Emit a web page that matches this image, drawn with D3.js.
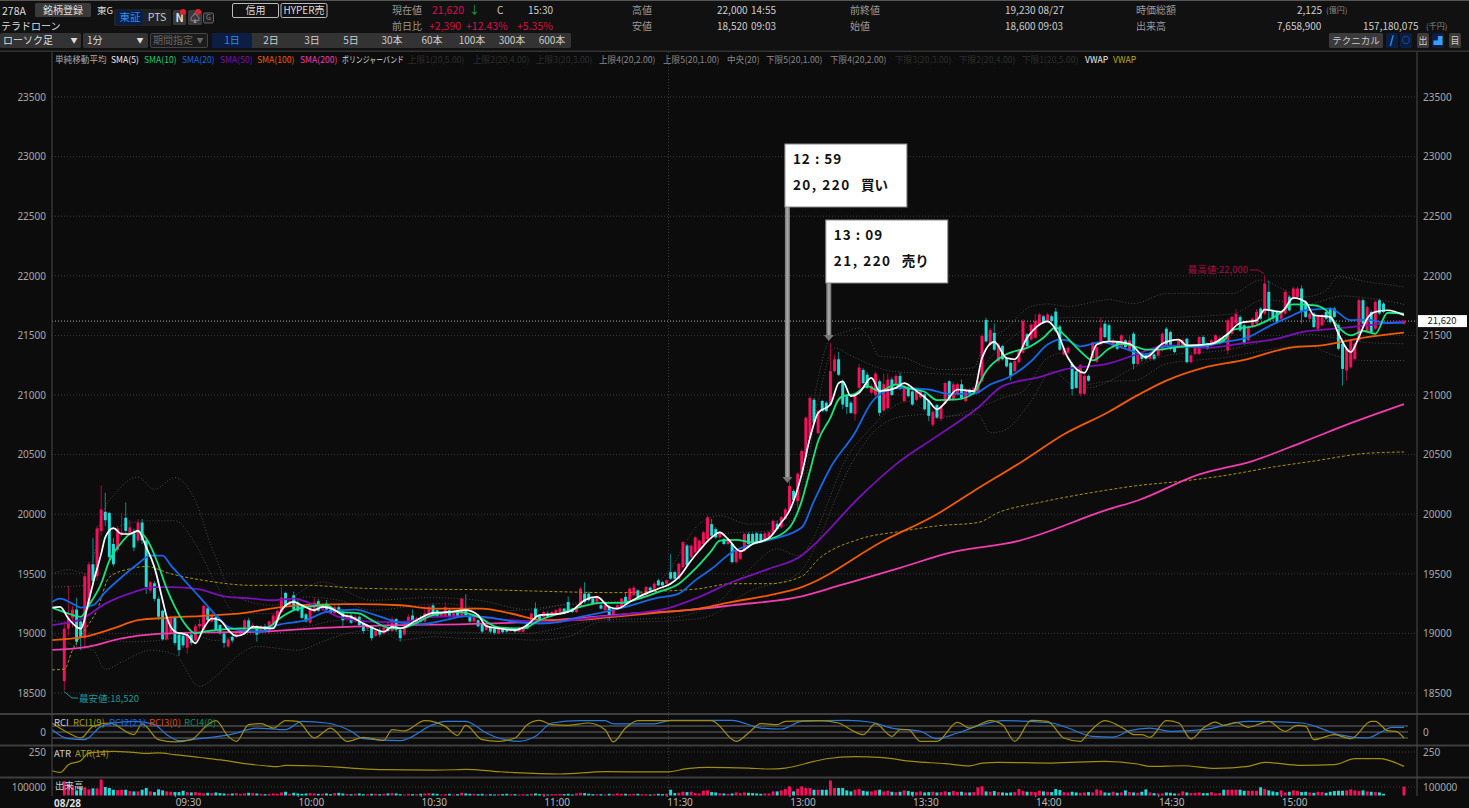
<!DOCTYPE html>
<html>
<head>
<meta charset="utf-8">
<script src="https://cdn.jsdelivr.net/npm/d3@7"></script>
<style>
  html, body { margin: 0; padding: 0; background: #0c0c0c; overflow: hidden; }
  svg { display: block; }
  text { font-family: "Noto Sans CJK JP", "Noto Sans", sans-serif; }
</style>
</head>
<body>
<div id="chart"></div>
<script>
// one-minute bars, 09:03 to 15:25 plus the closing bar, morning and afternoon sessions run together
const barMinute = d3.range(3, 326).concat([330]);
const barOpen = [
  18600,19040,19130,19200,19100,18960,19250,19580,19480,19860,
  20020,20010,19750,19700,19830,19970,19840,19840,19780,19930,
  19780,19360,19420,19290,19190,18950,19000,19130,18990,18980,
  18880,18990,18940,19060,19030,19210,19100,19140,19070,19000,
  18890,18970,18970,18990,19010,19110,19040,19060,19020,19060,
  19010,19070,19110,19180,19340,19240,19320,19260,19230,19160,
  19090,19180,19270,19200,19250,19200,19170,19220,19180,19120,
  19150,19100,19140,19080,19040,19060,18980,19020,19000,19050,
  19020,19120,19030,18990,19070,19150,19070,19130,19100,19140,
  19235,19195,19140,19140,19195,19140,19190,19140,19210,19150,
  19100,19110,19080,19030,19055,19040,19000,19040,19033,19020,
  19040,19015,19015,19097,19097,19208,19153,19139,19167,19153,
  19153,19167,19208,19264,19208,19180,19222,19334,19334,19292,
  19250,19236,19195,19222,19153,19208,19222,19306,19278,19320,
  19361,19306,19320,19384,19375,19445,19430,19417,19514,19514,
  19459,19556,19737,19640,19680,19695,19750,19792,19917,19875,
  19806,19792,19750,19750,19598,19625,19695,19834,19834,19840,
  19834,19778,19792,19834,19920,19890,19960,20028,20195,20110,
  20335,20480,20640,20960,20680,20950,20935,20920,21200,21300,
  21115,20990,20935,20840,21060,21210,21170,21020,21000,21115,
  20870,20890,21130,21090,21160,20950,21060,21030,20960,20980,
  21005,20950,20750,20915,20800,20935,21115,20960,21005,21090,
  20950,21045,21018,21018,21115,21630,21420,21520,21283,21410,
  21310,21270,21200,21275,21355,21510,21465,21480,21590,21660,
  21620,21660,21700,21575,21340,21355,21260,21200,21010,21010,
  21160,21310,21280,21425,21598,21585,21400,21444,21402,21458,
  21374,21514,21261,21345,21345,21303,21340,21330,21374,21556,
  21528,21402,21402,21402,21472,21275,21345,21345,21486,21430,
  21416,21430,21430,21472,21374,21514,21600,21655,21585,21458,
  21570,21600,21725,21683,21865,21710,21697,21640,21683,21825,
  21810,21823,21893,21780,21640,21683,21556,21585,21697,21725,
  21725,21585,21430,21205,21233,21303,21458,21795,21528,21697,
  21556,21795,21767,21600];
const barClose = [
  19040,19130,19200,18930,18970,19480,19580,19440,19880,20040,
  19950,19640,19580,19880,19850,19860,19890,19720,19930,19780,
  19390,19430,19290,19140,18950,19140,19130,18920,18860,18900,
  18990,18920,19060,19080,19230,19110,19160,19030,19000,18920,
  18950,18940,19000,19010,19110,19050,19070,18990,19060,19020,
  19100,19150,19190,19300,19230,19270,19200,19190,19130,19100,
  19220,19260,19190,19230,19200,19170,19220,19180,19110,19150,
  19090,19140,19070,19020,19060,18960,19020,18990,19050,19020,
  19120,19030,18960,19060,19140,19110,19125,19100,19170,19220,
  19150,19140,19170,19220,19140,19170,19140,19290,19150,19100,
  19150,19060,19015,19070,19015,19005,19040,19010,19015,19033,
  19015,19050,19040,19040,19167,19139,19111,19180,19139,19180,
  19195,19208,19167,19180,19180,19222,19375,19264,19278,19250,
  19306,19208,19236,19139,19208,19236,19292,19250,19375,19384,
  19306,19334,19389,19361,19417,19403,19403,19445,19459,19459,
  19584,19765,19570,19737,19806,19778,19848,19973,19820,19806,
  19848,19750,19792,19598,19695,19695,19834,19750,19765,19765,
  19778,19840,19848,19945,19875,19975,20040,20237,20120,20340,
  20530,20810,20975,20770,20865,20865,20865,21200,21300,21170,
  20920,20900,20850,21000,21230,21100,21060,21075,21180,20850,
  21090,21130,21000,21160,21050,21075,20990,20920,21030,21045,
  20880,20825,20860,20810,20900,21100,20960,21090,21090,20975,
  21045,21005,21060,21115,21495,21450,21545,21380,21423,21300,
  21240,21160,21285,21370,21620,21410,21590,21620,21675,21605,
  21675,21620,21535,21380,21395,21395,21050,21060,21250,21160,
  21120,21440,21400,21565,21486,21458,21460,21388,21500,21402,
  21458,21261,21345,21303,21303,21345,21303,21388,21514,21416,
  21388,21360,21458,21458,21275,21332,21402,21486,21430,21388,
  21458,21500,21472,21444,21627,21655,21680,21542,21430,21570,
  21640,21697,21640,21935,21710,21640,21612,21697,21865,21710,
  21893,21893,21697,21655,21683,21570,21669,21669,21640,21612,
  21655,21388,21219,21388,21458,21430,21795,21598,21739,21528,
  21781,21683,21697,21620];
const barHigh = [
  19100,19400,19230,19300,19110,19500,19600,19800,19900,20240,
  20180,20020,19800,19900,20010,20100,19950,19880,19960,19960,
  19800,19440,19440,19310,19200,19160,19150,19150,19000,19000,
  19000,19010,19080,19120,19240,19220,19170,19150,19080,19010,
  18960,18990,19010,19040,19120,19130,19090,19070,19070,19080,
  19110,19170,19200,19390,19350,19290,19350,19280,19240,19170,
  19230,19300,19290,19250,19280,19230,19240,19240,19200,19170,
  19170,19170,19150,19090,19080,19070,19040,19050,19070,19090,
  19140,19130,19050,19070,19160,19200,19140,19150,19230,19240,
  19250,19200,19180,19260,19210,19190,19200,19300,19330,19160,
  19160,19120,19090,19080,19060,19050,19050,19050,19040,19040,
  19045,19060,19050,19105,19175,19260,19160,19190,19190,19190,
  19205,19220,19215,19310,19215,19235,19390,19430,19350,19300,
  19320,19250,19245,19235,19215,19245,19300,19340,19385,19400,
  19370,19345,19400,19395,19430,19460,19440,19455,19667,19525,
  19595,19775,19750,19745,19815,19790,19860,19990,19960,19890,
  19860,19805,19805,19760,19705,19705,19845,19850,19845,19850,
  19845,19850,19860,19955,19945,19985,20055,20280,20210,20350,
  20545,20820,20990,20975,20880,20960,20950,21436,21340,21360,
  21130,21000,20950,21010,21260,21225,21190,21090,21195,21130,
  21180,21180,21150,21175,21190,21090,21075,21040,21040,21055,
  21020,20960,20870,20925,20910,21110,21125,21110,21100,21130,
  21055,21055,21070,21130,21510,21650,21560,21600,21435,21420,
  21320,21280,21295,21380,21635,21520,21600,21680,21690,21670,
  21690,21675,21730,21590,21410,21410,21270,21215,21260,21175,
  21170,21450,21415,21650,21620,21600,21475,21455,21510,21470,
  21500,21530,21360,21355,21355,21355,21350,21400,21525,21570,
  21540,21415,21470,21475,21480,21345,21415,21495,21500,21440,
  21470,21510,21500,21485,21640,21665,21720,21670,21600,21585,
  21650,21720,21735,22000,21960,21720,21710,21710,21880,21840,
  21910,21910,21920,21795,21695,21695,21680,21680,21710,21740,
  21740,21600,21440,21400,21470,21440,21810,21810,21750,21710,
  21795,21810,21780,21630];
const barLow = [
  18520,18980,19050,18900,18860,18870,19200,19400,19440,19820,
  19900,19620,19560,19680,19810,19830,19820,19690,19760,19750,
  19330,19340,19270,19110,18940,18940,18990,18900,18810,18880,
  18830,18900,18920,19040,19020,19100,19090,19020,18990,18880,
  18880,18920,18960,18980,19000,19040,19030,18930,19010,19010,
  19000,19060,19100,19170,19220,19230,19190,19180,19120,19090,
  19080,19170,19180,19190,19190,19160,19160,19170,19060,19100,
  19080,19090,19050,19000,19020,18940,18970,18970,18990,19010,
  19010,19010,18930,18980,19060,19100,19060,19090,19090,19130,
  19140,19130,19130,19130,19130,19130,19130,19130,19140,19090,
  19090,19050,19000,19020,19000,18990,18990,19000,19005,19010,
  19005,19005,19005,19035,19090,19130,19100,19130,19130,19145,
  19145,19160,19160,19170,19170,19170,19215,19250,19270,19240,
  19240,19200,19185,19105,19145,19200,19215,19240,19270,19310,
  19295,19295,19310,19350,19365,19395,19395,19405,19450,19450,
  19450,19545,19560,19630,19670,19685,19740,19780,19810,19795,
  19795,19740,19740,19585,19585,19615,19685,19740,19755,19755,
  19770,19770,19785,19825,19865,19880,19950,20020,20110,20045,
  20320,20470,20630,20755,20670,20855,20855,20910,21190,21160,
  20880,20840,20840,20785,21050,21090,21050,21010,20990,20825,
  20860,20880,20990,21080,21040,20935,20980,20910,20950,20970,
  20870,20780,20730,20800,20780,20925,20950,20950,20995,20965,
  20940,20995,21010,21010,21105,21440,21410,21370,21270,21290,
  21230,21120,21190,21265,21345,21400,21455,21470,21580,21595,
  21610,21610,21525,21370,21330,21345,20995,21050,20990,21000,
  21110,21300,21270,21415,21475,21445,21390,21375,21390,21390,
  21365,21215,21250,21280,21290,21290,21290,21320,21365,21405,
  21375,21350,21390,21390,21265,21265,21335,21335,21420,21380,
  21405,21420,21420,21435,21340,21505,21590,21530,21420,21448,
  21560,21590,21630,21670,21620,21620,21600,21630,21670,21700,
  21800,21810,21600,21645,21630,21560,21530,21575,21630,21600,
  21645,21375,21080,21120,21220,21290,21445,21585,21515,21515,
  21545,21670,21685,21590];
// volume in thousand shares
const barVolumeK = [
  168,136,108,60,96,96,72,84,84,188,
  100,88,68,64,68,68,52,48,48,68,
  88,48,40,72,60,48,44,40,40,56,
  40,36,40,32,24,32,28,36,28,24,
  20,24,28,20,24,32,28,24,20,16,
  20,24,20,36,44,20,32,24,20,24,
  28,24,20,20,24,16,28,32,24,20,
  16,20,24,16,16,20,20,16,20,24,
  28,24,16,12,20,16,16,20,24,28,
  24,20,12,16,20,12,16,32,24,20,
  20,16,20,12,16,12,16,16,20,16,
  16,12,16,12,20,24,16,20,12,16,
  16,20,16,20,12,24,32,28,20,16,
  16,16,12,20,16,24,20,20,16,20,
  20,16,16,12,16,20,16,20,68,28,
  32,44,40,44,28,24,56,60,40,36,
  28,24,20,24,36,28,36,32,28,24,
  20,24,24,48,48,60,76,108,48,80,
  108,88,88,68,68,68,68,176,88,88,
  88,60,48,68,76,56,48,48,60,68,
  48,56,44,40,44,60,52,44,40,48,
  36,40,44,36,40,48,40,52,40,44,
  36,36,40,96,108,48,44,52,40,36,
  32,36,40,76,52,44,44,40,56,48,
  44,40,76,64,40,36,44,36,32,36,
  40,36,72,60,36,32,44,32,36,60,
  40,36,32,44,72,36,28,24,24,36,
  32,24,24,48,36,28,32,36,28,28,
  40,24,28,68,68,68,68,68,56,56,
  56,56,96,76,60,48,40,60,36,44,
  60,52,40,44,36,32,44,40,32,44,
  52,56,56,60,72,60,52,60,48,44,
  40,36,20,104];

const sma5Min = [0,2,4,7,9,10,12,13,15,17,19,21,23,25,27,28,30,33,35,37,39,41,43,45,47,49,51,54,56,59,61,64,66,69,71,73,76,78,81,83,85,89,93,97,101,104,106,109,113,116,119,123,127,130,133,136,138,141,144,148,151,153,156,158,161,163,165,168,171,175,178,180,183,185,187,190,192,193,195,197,200,202,206,208,211,214,216,218,221,225,227,230,233,235,238,241,243,245,248,252,255,258,263,267,271,275,277,283,287,290,294,296,300,303,306,308,312,314,317,319,321,323,326,330];
const sma5 = [19217,19222,19125,19040,19278,19417,19667,19806,19884,19834,19834,19862,19723,19556,19278,19139,19014,18986,18917,19042,19125,19111,19028,18978,19000,19055,19050,19042,19195,19264,19236,19195,19222,19195,19153,19139,19083,19050,19014,19055,19042,19111,19172,19180,19195,19153,19061,19042,19028,19070,19153,19161,19195,19278,19306,19222,19208,19264,19320,19375,19417,19472,19612,19695,19806,19848,19792,19689,19750,19800,19930,20028,20335,20640,20850,20920,21100,21115,20990,21018,21144,21032,21060,21100,21032,20950,20880,20935,21046,21032,21310,21445,21310,21300,21480,21590,21618,21550,21310,21185,21423,21450,21430,21317,21430,21464,21416,21430,21514,21604,21626,21716,21697,21815,21780,21669,21655,21514,21360,21486,21640,21697,21711,21669];
const sma10Min = [0,4,7,9,12,14,17,19,21,24,26,28,30,33,35,37,40,46,50,53,55,59,62,67,70,75,78,83,85,93,99,104,109,115,119,124,129,134,139,142,148,153,157,161,163,167,171,175,180,183,185,187,190,192,193,196,199,202,206,209,213,216,221,225,228,232,235,238,242,245,247,251,254,258,261,265,267,270,274,283,286,288,294,299,303,308,311,314,317,320,323,326,330];
const sma10 = [19217,19167,19139,19236,19417,19611,19764,19834,19856,19737,19570,19375,19222,19055,19000,19014,19028,19042,19042,19055,19111,19195,19222,19236,19180,19167,19111,19042,19042,19153,19180,19139,19050,19042,19111,19167,19222,19256,19256,19278,19347,19417,19542,19695,19778,19784,19764,19790,19888,20112,20363,20614,20810,20963,20990,21010,21074,21032,21088,21055,21027,20957,20963,21018,21200,21325,21367,21395,21480,21568,21507,21367,21290,21388,21430,21400,21380,21380,21400,21430,21458,21542,21584,21669,21761,21753,21710,21570,21500,21537,21514,21690,21683];
const sma20Min = [0,2,5,7,10,13,17,21,24,27,29,32,36,40,43,46,51,55,62,67,74,79,85,90,96,101,107,113,119,124,129,135,140,147,153,157,161,166,171,176,183,186,190,196,200,202,207,214,219,225,229,234,239,243,246,248,251,256,261,267,271,280,286,292,297,302,306,312,317,321,326,330];
const sma20 = [19264,19292,19250,19217,19236,19347,19472,19584,19653,19653,19570,19458,19306,19153,19055,19028,19014,19070,19111,19180,19200,19153,19090,19078,19111,19145,19133,19097,19083,19097,19139,19180,19222,19292,19334,19445,19542,19681,19750,19792,19888,20112,20390,20684,20935,21005,21060,21046,21010,21010,21088,21158,21283,21423,21465,21456,21408,21444,21400,21340,21407,21407,21444,21486,21576,21655,21711,21725,21627,21632,21604,21607];
const sma50Min = [0,7,13,20,25,29,36,42,49,54,59,65,70,79,85,93,101,112,122,134,142,150,158,166,175,183,187,197,206,216,226,232,241,247,258,264,272,282,290,299,305,313,321,330];
const sma50 = [19070,19117,19250,19347,19389,19389,19370,19311,19292,19278,19292,19222,19139,19097,19095,19139,19145,19111,19097,19139,19167,19208,19306,19431,19542,19653,19777,20140,20418,20655,20893,21074,21150,21213,21265,21332,21416,21396,21430,21472,21528,21556,21584,21620];
const sma100Min = [0,8,15,21,28,37,47,55,64,74,85,93,105,112,120,127,137,150,158,166,175,183,203,216,225,237,247,258,264,272,281,291,302,310,321,330];
const sma100 = [18944,18972,19042,19111,19131,19147,19172,19217,19242,19245,19236,19208,19208,19167,19111,19111,19139,19180,19208,19264,19320,19389,19777,20000,20195,20446,20670,20860,20980,21121,21228,21295,21396,21416,21486,21523];
const sma200Min = [0,9,17,25,37,50,66,85,101,117,130,142,155,166,183,192,207,219,236,258,265,280,293,305,317,330];
const sma200 = [18861,18889,18958,18994,19008,19014,19047,19070,19078,19097,19133,19167,19195,19236,19311,19400,19550,19675,19777,20042,20115,20334,20446,20601,20764,20924];
const vwapMin = [0,3,5,8,11,14,19,23,29,37,49,62,74,85,105,117,137,150,158,166,175,183,187,197,208,216,226,231,241,247,258,264,276,288,297,308,321,330];
const vwap = [18694,18700,18861,19028,19195,19472,19542,19561,19500,19445,19403,19403,19381,19372,19367,19356,19342,19356,19375,19417,19417,19478,19620,19790,19860,19902,19930,20014,20098,20140,20205,20236,20278,20334,20390,20446,20511,20522];

// bollinger bands, the four that are faintly visible
const bandUpper2Min = [0,4,9,12,16,21,25,30,35,39,45,54,66,78,92,104,117,126,142,150,158,163,170,174,182,187,190,194,197,199,202,208,213,217,225,228,232,239,243,248,258,264,272,288,295,301,306,311,314,321,330];
const bandUpper2 = [19500,19534,19500,19973,20195,20312,20209,20307,20112,19723,19306,19236,19431,19278,19300,19278,19195,19250,19278,19500,19917,19987,19917,19917,20112,21144,21479,21535,21562,21507,21325,21311,21241,21214,21228,21479,21535,21744,21763,21744,21800,21767,21851,21851,21964,21880,21823,21880,21992,21950,21908];
const bandUpper1Min = [0,8,11,18,24,30,35,40,45,54,62,70,78,95,110,126,142,150,158,165,175,182,187,191,195,205,215,225,230,240,248,258,270,288,296,306,315,330];
const bandUpper1 = [19389,19403,19723,19917,19945,19945,19750,19417,19167,19167,19306,19278,19195,19250,19190,19240,19280,19400,19720,19840,19860,20000,20950,21395,21330,21200,21180,21170,21350,21600,21650,21650,21650,21680,21800,21760,21830,21760];
const bandLower1Min = [0,6,13,20,28,34,40,46,54,62,70,78,85,100,115,134,150,162,170,177,182,195,200,205,209,216,226,232,237,243,247,253,258,264,272,287,296,306,313,321,330];
const bandLower1 = [19110,19060,18950,18930,18950,18990,18940,18990,19000,19056,19111,19125,19014,19010,19000,19111,19130,19250,19528,19709,19653,20530,20725,20893,20949,20809,20893,20976,21032,21311,21353,21060,21116,21230,21330,21380,21450,21510,21480,21440,21430];
const bandLower2Min = [0,6,10,13,18,24,30,36,40,46,50,60,66,72,80,85,93,101,109,118,126,134,142,154,160,170,182,196,200,208,214,218,226,229,232,239,244,250,258,264,272,287,296,306,313,321,330];
const bandLower2 = [19000,18890,18861,18700,18778,18860,18820,18555,18640,18830,18890,18860,18930,19000,19028,18944,18972,18958,18958,18944,18972,19097,19097,19111,19140,19350,19500,20474,20670,20823,20837,20823,20837,20683,20697,20948,21200,21074,21116,21120,21261,21318,21374,21416,21332,21289,21289];

// sub panels
const rci1Min = [0,4,7,10,14,20,22,26,30,34,38,40,43,45,48,51,54,57,60,64,68,72,76,81,83,86,91,96,99,101,105,109,113,116,119,122,126,131,135,137,140,143,150,161,167,170,173,177,179,187,192,195,198,201,205,207,209,212,216,221,224,229,232,235,239,243,247,251,253,257,262,264,266,268,272,275,278,281,284,286,289,292,297,300,301,304,306,308,313,317,322,323,326,328,330];
const rci1 = [75,-8,-50,47,75,-22,67,-64,-83,-64,61,95,-36,-78,61,70,33,95,89,-50,33,-78,-44,-70,19,10,95,47,-28,56,-64,-78,-50,61,97,61,56,75,19,-83,33,95,95,95,-78,-8,70,61,89,95,75,19,-22,70,-36,19,19,-78,-78,81,33,95,61,-78,97,89,-50,-78,-8,95,19,-22,-22,-44,95,75,-58,33,83,56,81,39,89,19,6,56,47,-64,-22,-56,89,89,11,5,-50];
const rci2Min = [0,4,8,12,15,20,25,28,31,36,44,50,57,61,67,73,76,85,93,96,101,106,109,114,118,122,129,135,137,147,151,166,173,178,183,194,200,205,212,216,221,227,232,244,248,254,259,263,268,273,281,292,305,309,314,321,325,327,330];
const rci2 = [19,-56,-64,47,75,89,61,-22,-72,-56,-17,33,19,89,75,6,-56,-72,61,89,89,-8,-50,-78,-36,75,95,95,67,67,97,97,33,25,89,97,81,33,6,-56,-8,61,95,75,33,-36,-42,11,33,6,19,89,75,39,-22,-50,11,39,39];
const atrMin = [0,2,4,7,9,15,20,23,26,30,36,42,47,52,55,57,65,73,81,93,98,101,109,113,124,135,150,155,160,170,175,179,186,189,196,202,210,218,224,227,231,244,257,265,268,276,284,292,296,305,313,318,324,330];
const atr = [55,38,118,160,240,257,246,236,240,222,193,163,128,107,97,111,104,83,66,62,65,70,45,35,21,45,42,76,90,83,73,83,152,180,201,194,152,128,105,135,142,135,152,125,100,107,79,100,142,111,118,180,180,100];

const priceTicks = [18500,19000,19500,20000,20500,21000,21500,22000,22500,23000,23500];
const timeTickMin = [30,60,90,120,150,180,210,240,270,300];
const timeTickLabel = ["09:30","10:00","10:30","11:00","11:30","13:00","13:30","14:00","14:30","15:00"];
const lastPrice = 21620;
const trades = [
  { minute: 179.5, tip: 20262, time: "12 : 59", price: "20, 220", side: "買い", dx: -2.5, top: 144 },
  { minute: 189.6, tip: 21453, time: "13 : 09", price: "21, 220", side: "売り", dx: -3, top: 220 }
];

const width = 1469, height = 808;
const svg = d3.select("#chart").append("svg").attr("width", width).attr("height", height);
svg.append("rect").attr("width", width).attr("height", height).attr("fill", "#0c0c0c");

const x = d3.scaleLinear().domain([0, 330]).range([52, 1404]);
const y = d3.scaleLinear().domain([18500, 23500]).range([693, 97]);
const yRci = d3.scaleLinear().domain([-100, 100]).range([744, 720]);
const yAtr = d3.scaleLinear().domain([0, 250]).range([776, 752]);
const yVol = d3.scaleLinear().domain([0, 100]).range([795.5, 787]);

function label(g, px, py, str, color, size, anchor, weight) {
  return g.append("text").attr("x", px).attr("y", py).attr("dy", "0.35em")
    .attr("fill", color).attr("font-size", size || 10)
    .attr("text-anchor", anchor || "start").attr("font-weight", weight || 400).text(str);
}

// ---------- header ----------
const head = svg.append("g");
head.append("rect").attr("width", width).attr("height", 51).attr("fill", "#111");
head.append("rect").attr("width", width).attr("height", 1).attr("fill", "#555");
function btn(x0, y0, w, h, fill, stroke) {
  return head.append("rect").attr("x", x0).attr("y", y0).attr("width", w).attr("height", h)
    .attr("rx", 1.5).attr("fill", fill).attr("stroke", stroke || "none");
}
label(head, 2, 11, "278A", "#ddd", 10.5);
btn(35, 3, 56, 14, "#3a3a3a");
label(head, 63, 10, "銘柄登録", "#ddd", 10, "middle");
label(head, 97, 11, "東G", "#ddd", 9.5);
label(head, 1, 26, "テラドローン", "#ddd", 10);
btn(114, 9, 57, 17, "#222");
btn(116, 10, 27, 15, "#0c1e44");
label(head, 130, 17, "東証", "#2b8fe0", 10.5, "middle");
label(head, 157, 17, "PTS", "#ccc", 10.5, "middle");
btn(173, 10, 13, 15, "#3a3a3a");
label(head, 179.5, 18, "N", "#ddd", 11, "middle", 700);
head.append("circle").attr("cx", 183).attr("cy", 12).attr("r", 3).attr("fill", "#e02030");
btn(188, 10, 14, 15, "#3a3a3a");
label(head, 195, 18, "♤", "#ddd", 10, "middle");
head.append("circle").attr("cx", 198).attr("cy", 12).attr("r", 3).attr("fill", "#e02030");
btn(203.5, 13, 10, 10, "#222", "#666");
label(head, 208.5, 18, "G", "#888", 7, "middle");
btn(232.5, 3.5, 46, 14, "#111", "#bbb");
label(head, 255.5, 10.5, "信用", "#ddd", 10, "middle");
btn(281, 3.5, 46, 14, "#111", "#bbb");
label(head, 304, 10.5, "HYPER売", "#ddd", 10, "middle");

label(head, 392, 10, "現在値", "#999", 10);
label(head, 432, 10, "21,620", "#d81048", 10.5);
label(head, 469, 10, "↓", "#10a060", 11);
label(head, 497, 10, "C", "#ccc", 10);
label(head, 528, 10, "15:30", "#ccc", 10);
label(head, 392, 26, "前日比", "#999", 10);
label(head, 429, 26, "+2,390", "#d81048", 10.5);
label(head, 466, 26, "+12.43%", "#d81048", 10.5);
label(head, 517, 26, "+5.35%", "#d81048", 10.5);

label(head, 632, 10, "高値", "#999", 10);
label(head, 717, 10, "22,000", "#ccc", 10);
label(head, 751, 10, "14:55", "#ccc", 10);
label(head, 632, 26, "安値", "#999", 10);
label(head, 717, 26, "18,520", "#ccc", 10);
label(head, 751, 26, "09:03", "#ccc", 10);
label(head, 850, 10, "前終値", "#999", 10);
label(head, 1005, 10, "19,230", "#ccc", 10);
label(head, 1038, 10, "08/27", "#ccc", 10);
label(head, 850, 26, "始値", "#999", 10);
label(head, 1005, 26, "18,600", "#ccc", 10);
label(head, 1038, 26, "09:03", "#ccc", 10);
label(head, 1136, 10, "時価総額", "#999", 10);
label(head, 1297, 10, "2,125", "#ccc", 10);
label(head, 1326, 10, "(億円)", "#888", 8);
label(head, 1136, 26, "出来高", "#999", 10);
label(head, 1277, 26, "7,658,900", "#ccc", 10);
label(head, 1363, 26, "157,180,075", "#ccc", 10);
label(head, 1426, 26, "(千円)", "#888", 8);

btn(0, 33, 81, 15, "#333");
label(head, 3, 40.5, "ローソク足", "#ddd", 10);
label(head, 74, 40.5, "▼", "#ddd", 7, "middle");
btn(83, 33, 65, 15, "#333");
label(head, 87, 40.5, "1分", "#ddd", 10);
label(head, 140, 40.5, "▼", "#ddd", 7, "middle");
btn(150.5, 33.5, 57, 14, "#1c1c1c", "#444");
label(head, 153, 40.5, "期間指定", "#666", 10);
label(head, 200, 40.5, "▼", "#666", 7, "middle");
btn(212, 33, 359, 15, "#333");
btn(212, 33, 40, 15, "#0c1e44");
const periodNames = ["1日","2日","3日","5日","30本","60本","100本","300本","600本"];
const periodCx = [232,271,312,351,392,432,472,512,552];
periodNames.forEach((n, k) => label(head, periodCx[k], 40.5, n, k === 0 ? "#2b8fe0" : "#ccc", 10, "middle"));

btn(1329, 33, 54, 15, "#3a3a3a");
label(head, 1356, 40.5, "テクニカル", "#ccc", 9.5, "middle");
[1386, 1400, 1417, 1432, 1449].forEach((bx, k) => btn(bx, 33, 12, 15, k < 2 || k === 3 ? "#0c1e44" : "#3a3a3a"));
label(head, 1392, 40.5, "/", "#3aa0ff", 11, "middle", 700);
label(head, 1406, 40.5, "○", "#3aa0ff", 8, "middle");
label(head, 1423, 40.5, "出", "#ccc", 9, "middle");
label(head, 1438, 40.5, "▟", "#3aa0ff", 9, "middle");
label(head, 1455, 40.5, "目", "#ccc", 9, "middle");

// ---------- price panel grid and axes ----------
const plot = svg.append("g");
plot.append("g").selectAll("line").data(priceTicks).join("line")
  .attr("x1", 52).attr("x2", 1417).attr("y1", d => y(d)).attr("y2", d => y(d))
  .attr("stroke", "#3c3c3c").attr("stroke-dasharray", "1,2");
plot.append("line").attr("x1", x(150) + 2).attr("x2", x(150) + 2).attr("y1", 52).attr("y2", 796)
  .attr("stroke", "#3c3c3c").attr("stroke-dasharray", "1,2");

const axisLeft = d3.axisLeft(y).tickValues(priceTicks).tickSize(0).tickPadding(0).tickFormat(d3.format("d"));
const axisRight = d3.axisRight(y).tickValues(priceTicks).tickSize(0).tickPadding(0).tickFormat(d3.format("d"));
function styleAxis(g) {
  g.select(".domain").remove();
  g.selectAll("text").attr("fill", "#a8a8a8").attr("font-size", 10)
    .style("font-family", "'Noto Sans', sans-serif");
}
svg.append("g").attr("transform", "translate(46,0)").call(axisLeft).call(styleAxis);
svg.append("g").attr("transform", "translate(1423,0)").call(axisRight).call(styleAxis);

// ---------- bollinger ----------
const lineOf = (scale, mins) => d3.line().x((d, k) => x(mins[k])).y(d => scale(d)).curve(d3.curveMonotoneX);
const bands = [[bandUpper2Min, bandUpper2], [bandUpper1Min, bandUpper1], [bandLower1Min, bandLower1], [bandLower2Min, bandLower2]];
bands.forEach(b => {
  plot.append("path").attr("d", lineOf(y, b[0])(b[1]))
    .attr("fill", "none").attr("stroke", "#4a4a4a").attr("stroke-width", 1).attr("stroke-dasharray", "1,2");
});

// ---------- last price line ----------
plot.append("line").attr("x1", 52).attr("x2", 1417).attr("y1", y(lastPrice)).attr("y2", y(lastPrice))
  .attr("stroke", "#b0b0b0").attr("stroke-dasharray", "1,2");

// ---------- candles ----------
const isUp = k => barClose[k] >= barOpen[k];
const barW = (x(1) - x(0)) * 0.72;
const candles = plot.append("g");
candles.selectAll("line").data(barMinute).join("line")
  .attr("x1", d => x(d)).attr("x2", d => x(d))
  .attr("y1", (d, k) => y(barHigh[k])).attr("y2", (d, k) => y(barLow[k]))
  .attr("stroke", (d, k) => isUp(k) ? "#a80c42" : "#0e8a88").attr("stroke-width", 1);
candles.selectAll("rect").data(barMinute).join("rect")
  .attr("x", d => x(d) - barW / 2).attr("width", barW)
  .attr("y", (d, k) => y(Math.max(barOpen[k], barClose[k])))
  .attr("height", (d, k) => Math.max(1, Math.abs(y(barOpen[k]) - y(barClose[k]))))
  .attr("fill", (d, k) => isUp(k) ? "#f4105c" : "#1fdcd6");

// ---------- moving averages ----------
const lines = [
  [vwapMin, vwap, "#a8920e", 1, "3,2"],
  [sma200Min, sma200, "#f23cb0", 1.8],
  [sma100Min, sma100, "#f25a06", 1.8],
  [sma50Min, sma50, "#7a10b8", 1.8],
  [sma20Min, sma20, "#1768e8", 1.8],
  [sma10Min, sma10, "#14e67c", 1.8],
  [sma5Min, sma5, "#ffffff", 1.7]
];
lines.forEach(l => {
  plot.append("path").attr("d", lineOf(y, l[0])(l[1]))
    .attr("fill", "none").attr("stroke", l[2]).attr("stroke-width", l[3])
    .attr("stroke-linejoin", "round").attr("stroke-dasharray", l[4] || null);
});

// ---------- legend row ----------
const legend = svg.append("g");
const legendText = ["単純移動平均","SMA(5)","SMA(10)","SMA(20)","SMA(50)","SMA(100)","SMA(200)","ボリンジャーバンド","上限1(20,5.00)","上限2(20,4.00)","上限3(20,3.00)","上限4(20,2.00)","上限5(20,1.00)","中央(20)","下限5(20,1.00)","下限4(20,2.00)","下限3(20,3.00)","下限2(20,4.00)","下限1(20,5.00)","VWAP","VWAP"];
const legendX = [55,111,144,182,220,257,300,342,408,473,536,599,663,727,766,830,895,959,1022,1085,1113];
const legendColor = ["#aaa","#eee","#10d070","#1768e8","#7a10b8","#f25a06","#f23cb0","#ddd","#2e2e2e","#2e2e2e","#2e2e2e","#888","#888","#888","#888","#888","#2e2e2e","#2e2e2e","#2e2e2e","#eee","#c0a810"];
legendText.forEach((t, k) => {
  const item = label(legend, legendX[k], 60, t, legendColor[k], 8.6);
  if (k === 7) item.attr("textLength", 62).attr("lengthAdjust", "spacingAndGlyphs");
});

// ---------- high / low marks ----------
label(plot, 1248, 270, "最高値:22,000", "#a80c42", 9.5, "end");
plot.append("path").attr("d", `M1250,270H1258L${x(296) - 0.5},${y(22000) - 2}`).attr("fill", "none").attr("stroke", "#a80c42");
label(plot, 79, 699, "最安値:18,520", "#1a9a98", 9.5);
plot.append("path").attr("d", `M${x(3)},${y(18520) + 1}L72,698H78`).attr("fill", "none").attr("stroke", "#1a9a98");

// ---------- sub panels ----------
[714, 745.5, 777.5].forEach(py => svg.append("rect").attr("x", 0).attr("y", py - 1).attr("width", width).attr("height", 2).attr("fill", "#3e3e3e"));
[-50, 0, 50].forEach(v => svg.append("line").attr("x1", 52).attr("x2", 1408).attr("y1", yRci(v)).attr("y2", yRci(v)).attr("stroke", "#6a6a6a"));
svg.append("line").attr("x1", 52).attr("x2", 1417).attr("y1", yAtr(250)).attr("y2", yAtr(250)).attr("stroke", "#3c3c3c").attr("stroke-dasharray", "1,2");
svg.append("line").attr("x1", 52).attr("x2", 1417).attr("y1", yVol(100)).attr("y2", yVol(100)).attr("stroke", "#3c3c3c").attr("stroke-dasharray", "1,2");
svg.append("path").attr("d", lineOf(yRci, rci2Min)(rci2)).attr("fill", "none").attr("stroke", "#2a78d8").attr("stroke-width", 1.2);
svg.append("path").attr("d", lineOf(yRci, rci1Min)(rci1)).attr("fill", "none").attr("stroke", "#a08c10").attr("stroke-width", 1.2);
svg.append("path").attr("d", lineOf(yAtr, atrMin)(atr)).attr("fill", "none").attr("stroke", "#a08c10").attr("stroke-width", 1.2);

svg.append("g").selectAll("rect").data(barMinute).join("rect")
  .attr("x", d => x(d) - barW / 2).attr("width", barW)
  .attr("y", (d, k) => yVol(barVolumeK[k]))
  .attr("height", (d, k) => yVol(0) - yVol(barVolumeK[k]))
  .attr("fill", (d, k) => isUp(k) ? "#f4105c" : "#1fdcd6");

label(svg, 54, 723, "RCI", "#ccc", 9.5);
label(svg, 73, 723, "RCI1(9)", "#a89a10", 9.5);
label(svg, 109, 723, "RCI2(21)", "#1768e8", 9.5);
label(svg, 149, 723, "RCI3(0)", "#d84a10", 9.5);
label(svg, 184, 723, "RCI4(0)", "#0c8a5a", 9.5);
label(svg, 54, 754, "ATR", "#ccc", 9.5);
label(svg, 75, 754, "ATR(14)", "#a89a10", 9.5);
label(svg, 55, 786, "出来高", "#ccc", 9.5);

const sideValues = [["0", yRci(0)], ["250", yAtr(250)], ["100000", yVol(100)]];
sideValues.forEach(s => {
  label(svg, 46, s[1], s[0], "#a8a8a8", 10, "end").style("font-family", "'Noto Sans', sans-serif");
  label(svg, 1423, s[1], s[0], "#a8a8a8", 10).style("font-family", "'Noto Sans', sans-serif");
});

// ---------- time axis ----------
const axisTime = d3.axisBottom(x).tickValues(timeTickMin).tickSize(2).tickPadding(2)
  .tickFormat((d, k) => timeTickLabel[k]);
svg.append("g").attr("transform", "translate(0,795)").call(axisTime).call(g => {
  g.select(".domain").remove();
  g.selectAll("line").attr("stroke", "#888");
  g.selectAll("text").attr("fill", "#b8b8b8").attr("font-size", 10).attr("dx", 13)
    .style("font-family", "'Noto Sans', sans-serif");
});
label(svg, 54, 803, "08/28", "#ddd", 10, "start", 700).style("font-family", "'Noto Sans', sans-serif");

// frame
[52, 1417].forEach(fx => svg.append("rect").attr("x", fx - 0.5).attr("y", 52).attr("width", 1).attr("height", 744).attr("fill", "#4a4a4a"));
svg.append("rect").attr("x", 0).attr("y", 50.5).attr("width", width).attr("height", 1.5).attr("fill", "#333");

// last price tag
svg.append("rect").attr("x", 1418).attr("y", y(lastPrice) - 6).attr("width", 49).attr("height", 12).attr("fill", "#fff");
label(svg, 1442, y(lastPrice), "21,620", "#222", 9.5, "middle");

// ---------- trade notes ----------
const notes = svg.append("g");
trades.forEach(t => {
  const tx = x(t.minute), ty = y(t.tip);
  notes.append("rect").attr("x", tx - 2.5).attr("y", t.top + 60).attr("width", 5).attr("height", ty - t.top - 66).attr("fill", "#808080");
  notes.append("rect").attr("x", tx - 1).attr("y", t.top + 60).attr("width", 2).attr("height", ty - t.top - 66).attr("fill", "#a8a8a8");
  notes.append("path").attr("d", `M${tx - 5},${ty - 6}H${tx + 5}L${tx},${ty}Z`).attr("fill", "#777");
  const left = tx + t.dx;
  notes.append("rect").attr("x", left).attr("y", t.top).attr("width", 122).attr("height", 63)
    .attr("fill", "#fff").attr("stroke", "#888");
  const write = (dx, dy, str, spacing) => notes.append("text").attr("x", left + dx).attr("y", t.top + dy)
    .attr("font-size", 13.5).attr("font-weight", 700).attr("fill", "#111").attr("letter-spacing", spacing).text(str);
  write(8, 20, t.time, 1);
  write(8, 46, t.price, 1.5);
  write(76, 46, t.side, 0);
});
</script>
</body>
</html>
